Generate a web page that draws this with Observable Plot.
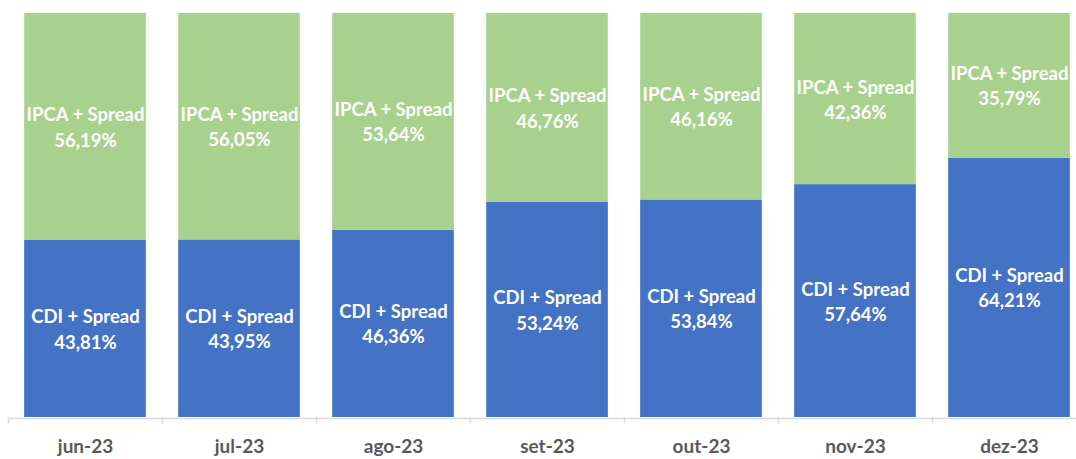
<!DOCTYPE html>
<html><head><meta charset="utf-8">
<script src="https://cdn.jsdelivr.net/npm/d3@7"></script>
<script src="https://cdn.jsdelivr.net/npm/@observablehq/plot@0.6"></script>
<style>html,body{margin:0;background:#fff;overflow:hidden;}</style>
</head><body><div id="chart"></div>
<script>
const months = ["jun-23","jul-23","ago-23","set-23","out-23","nov-23","dez-23"];
const seriesNames = ["CDI + Spread","IPCA + Spread"];
const cdi = [43.81,43.95,46.36,53.24,53.84,57.64,64.21];
const ipca = [56.19,56.05,53.64,46.76,46.16,42.36,35.79];
const colors = ["#4472C4","#A9D18E"];

const fmt = v => v.toFixed(2).replace(".", ",") + "%";
const data = [];
months.forEach((m,i)=>{
  data.push({month:m, series:seriesNames[0], value:cdi[i]});
  data.push({month:m, series:seriesNames[1], value:ipca[i]});
});

const chart = Plot.plot({
  width:1076, height:459,
  marginLeft:10, marginRight:0, marginTop:13, marginBottom:42,
  style:{fontFamily:"Lato, 'Open Sans', sans-serif", background:"#fff", overflow:"hidden"},
  x:{domain:months, range:[8,1086], paddingInner:0.21, paddingOuter:0.105, round:false, label:null},
  y:{domain:[0,100], axis:null},
  color:{domain:seriesNames, range:colors},
  marks:[
    Plot.barY(data, {x:"month", y:"value", fill:"series", order:seriesNames}),
    Plot.ruleY([0], {stroke:"#D9D9D9", strokeWidth:1.5, dy:1}),
    Plot.ruleX(months, {x:d=>d, y1:0, y2:-1.6, dx:-77, stroke:"#D9D9D9", strokeWidth:1.5}),
    Plot.text(data, Plot.stackY({x:"month", y:"value", z:"series", order:seriesNames,
      text:d=>d.series+"\n"+fmt(d.value), fill:"white", fontSize:18.5, fontWeight:"bold", lineHeight:1.36, dy:-1})),
    Plot.axisX({tickSize:0, tickPadding:22, fontSize:19, fontWeight:"bold", color:"#595959", label:null})
  ]
});
document.getElementById("chart").appendChild(chart);
</script></body></html>
